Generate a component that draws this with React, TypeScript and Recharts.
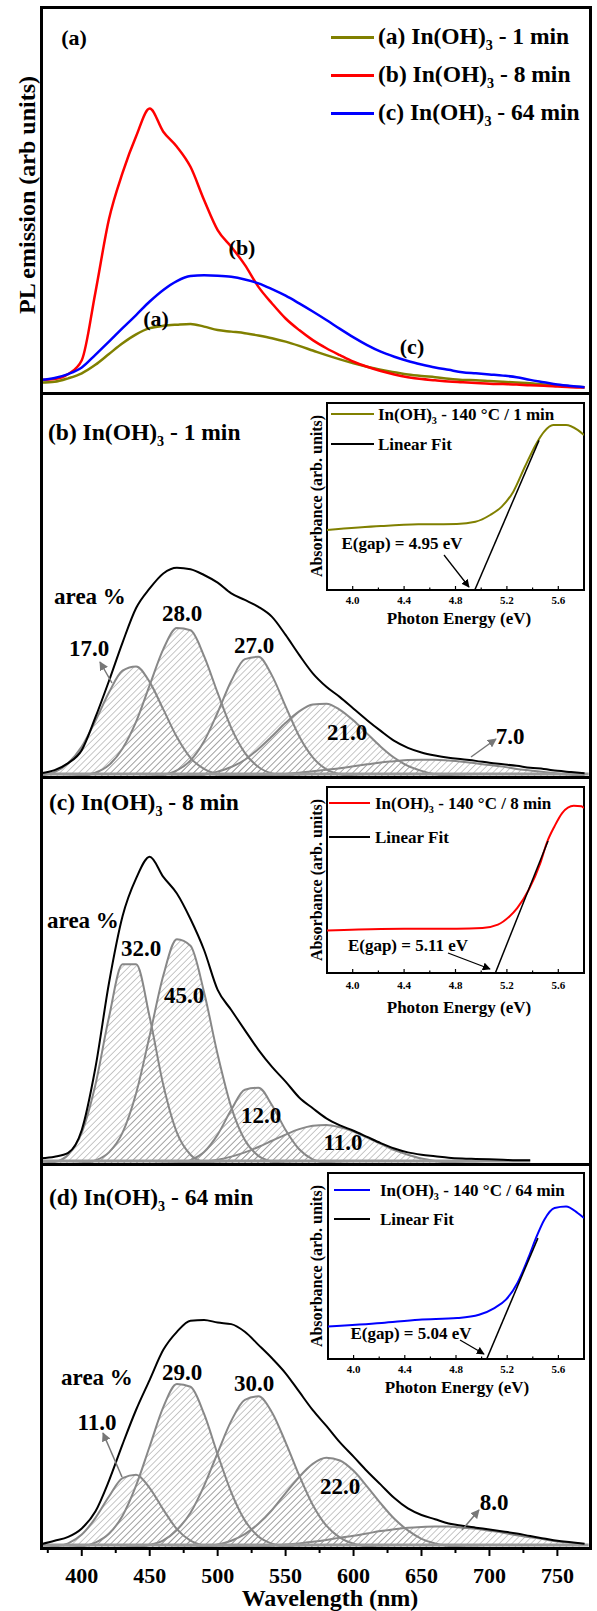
import React from 'react';
import { ComposedChart, Line, Area, XAxis, YAxis, ReferenceLine } from 'recharts';

const FONT = "'Liberation Serif', 'Times New Roman', Times, serif";

// ---------- shared wavelength grid (nm) ----------
const wavelengths = [
  370, 380, 390, 400, 410, 420, 430, 440, 450, 460,
  470, 480, 490, 500, 510, 520, 530, 540, 550, 560,
  570, 580, 590, 600, 610, 620, 630, 640, 650, 660,
  670, 680, 690, 700, 710, 720, 730, 740, 750, 760,
  770,
];
const wavelengths8min = [
  370, 380, 390, 400, 410, 420, 430, 440, 450, 460,
  470, 480, 490, 500, 510, 520, 530, 540, 550, 560,
  570, 580, 590, 600, 610, 620, 630, 640, 650, 660,
  670, 680, 690, 700, 710, 720, 730,
];
const xTickValues = [375, 400, 425, 450, 475, 500, 525, 550, 575, 600, 625, 650, 675, 700, 725, 750];

// ---------- panel (a): PL emission ----------
const pl1min = [
  2.7, 2.9, 3.8, 5.1, 7.3, 10.1, 12.9, 15.2, 16.8, 17.4,
  17.7, 17.9, 17.2, 16.3, 15.9, 15.5, 14.9, 14.2, 13.3, 12.2,
  11.0, 9.8, 8.7, 7.7, 6.8, 6.0, 5.4, 4.8, 4.4, 4.1,
  3.7, 3.4, 3.3, 3.1, 2.9, 2.7, 2.5, 2.2, 2.0, 1.7,
  1.5,
];
const pl8min = [
  3.4, 3.6, 4.9, 8.5, 26.0, 45.0, 57.0, 66.5, 73.7, 67.7,
  63.8, 58.6, 50.0, 42.2, 37.9, 33.2, 27.5, 23.2, 19.3, 16.3,
  13.7, 11.6, 9.8, 8.1, 6.8, 5.7, 4.8, 4.1, 3.6, 3.3,
  3.0, 2.8, 2.6, 2.4, 2.3, 2.2, 2.0, 1.9, 1.7, 1.5,
  1.4,
];
const pl64min = [
  3.4, 3.9, 4.9, 6.6, 9.9, 13.3, 16.8, 20.2, 23.7, 26.7,
  29.0, 30.3, 30.5, 30.4, 30.1, 29.4, 28.4, 26.9, 25.2, 23.2,
  21.1, 18.9, 16.6, 14.4, 12.4, 10.7, 9.4, 8.3, 7.4, 6.6,
  6.0, 5.4, 5.1, 4.8, 4.5, 4.1, 3.4, 2.8, 2.2, 1.8,
  1.5,
];

// ---------- panel (b): 1 min fit ----------
const fit1Total = [
  1.0, 1.8, 3.6, 7.0, 15.5, 25.0, 35.0, 44.0, 49.1, 53.0,
  54.5, 54.1, 52.6, 50.6, 47.8, 46.1, 44.3, 41.7, 37.0, 31.8,
  27.0, 23.5, 20.8, 17.8, 14.8, 12.0, 9.4, 7.6, 6.4, 5.6,
  5.0, 4.6, 4.2, 3.7, 3.3, 2.9, 2.4, 2.1, 1.6, 1.3,
  1.0,
];
const fit1Peak1 = [
  0.4, 1.3, 3.6, 7.9, 14.6, 22.0, 27.7, 28.8, 24.7, 17.6,
  10.4, 5.0, 2.1, 0.7, 0.2, 0, 0, 0, 0, 0,
  0, 0, 0, 0, 0, 0, 0, 0, 0, 0,
  0, 0, 0, 0, 0, 0, 0, 0, 0, 0,
  0,
];
const fit1Peak2 = [
  0, 0, 0.1, 0.3, 1.1, 3.1, 7.4, 14.4, 23.9, 33.3,
  38.8, 38.2, 31.5, 21.9, 12.8, 6.3, 2.6, 0.9, 0.3, 0.1,
  0, 0, 0, 0, 0, 0, 0, 0, 0, 0,
  0, 0, 0, 0, 0, 0, 0, 0, 0, 0,
  0,
];
const fit1Peak3 = [
  0, 0, 0, 0, 0, 0, 0, 0, 0.1, 0.5,
  1.7, 4.3, 9.3, 16.8, 25.0, 30.7, 31.3, 26.4, 18.4, 10.6,
  5.1, 2.0, 0.7, 0.2, 0, 0, 0, 0, 0, 0,
  0, 0, 0, 0, 0, 0, 0, 0, 0, 0,
  0,
];
const fit1Peak4 = [
  0, 0, 0, 0, 0, 0, 0, 0, 0, 0,
  0.1, 0.3, 0.6, 1.4, 2.6, 4.5, 7.3, 10.6, 14.1, 17.1,
  18.9, 19.1, 17.5, 14.7, 11.3, 7.9, 5.0, 2.9, 1.6, 0.7,
  0.3, 0.1, 0, 0, 0, 0, 0, 0, 0, 0,
  0,
];
const fit1Peak5 = [
  0, 0, 0, 0, 0, 0, 0, 0, 0, 0,
  0, 0, 0, 0.1, 0.2, 0.3, 0.4, 0.5, 0.8, 1.1,
  1.5, 1.9, 2.3, 2.8, 3.3, 3.8, 4.1, 4.4, 4.5, 4.5,
  4.3, 4.0, 3.6, 3.1, 2.7, 2.1, 1.7, 1.3, 0.9, 0.6,
  0.5,
];

// ---------- panel (c): 8 min fit ----------
const fit8Total = [
  1.5, 1.9, 2.9, 8.8, 24.8, 46.7, 64.0, 73.8, 79.4, 74.2,
  69.9, 63.3, 55.3, 45.0, 39.8, 34.6, 29.5, 25.1, 21.3, 17.2,
  14.4, 11.8, 10.0, 8.6, 7.0, 5.4, 4.0, 3.0, 2.4, 2.0,
  1.6, 1.4, 1.3, 1.2, 1.1, 1.0, 1.0,
];
const fit8Peak1 = [
  0.1, 0.5, 2.4, 8.1, 20.4, 37.9, 51.6, 51.6, 37.9, 20.4,
  8.1, 2.4, 0.5, 0.1, 0, 0, 0, 0, 0, 0,
  0, 0, 0, 0, 0, 0, 0, 0, 0, 0,
  0, 0, 0, 0, 0, 0, 0,
];
const fit8Peak2 = [
  0, 0, 0, 0.2, 0.9, 3.0, 8.1, 18.3, 33.2, 48.7,
  58.1, 56.4, 44.4, 28.3, 14.7, 6.2, 2.1, 0.6, 0.1, 0,
  0, 0, 0, 0, 0, 0, 0, 0, 0, 0,
  0, 0, 0, 0, 0, 0, 0,
];
const fit8Peak3 = [
  0, 0, 0, 0, 0, 0, 0, 0, 0, 0,
  0.2, 1.0, 3.1, 7.6, 14.0, 19.2, 19.7, 15.2, 8.8, 3.8,
  1.2, 0.3, 0.1, 0, 0, 0, 0, 0, 0, 0,
  0, 0, 0, 0, 0, 0, 0,
];
const fit8Peak4 = [
  0, 0, 0, 0, 0, 0, 0, 0, 0, 0.1,
  0.1, 0.3, 0.6, 1.1, 1.9, 3.0, 4.4, 6.0, 7.6, 9.0,
  9.9, 10.1, 9.5, 8.4, 6.8, 5.2, 3.6, 2.4, 1.4, 0.8,
  0.4, 0.2, 0.1, 0, 0, 0, 0,
];

// ---------- panel (d): 64 min fit ----------
const fit64Total = [
  1.0, 1.9, 2.9, 5.1, 9.5, 17.5, 27.0, 36.0, 43.8, 51.6,
  56.3, 59.2, 59.4, 58.7, 58.3, 56.3, 52.9, 49.4, 45.5, 40.7,
  35.9, 31.8, 27.5, 23.8, 20.0, 16.5, 13.0, 10.3, 8.6, 7.5,
  6.4, 5.8, 5.3, 4.8, 4.3, 3.8, 3.1, 2.5, 1.9, 1.5,
  1.1,
];
const fit64Peak1 = [
  0.1, 0.3, 1.2, 3.5, 7.8, 13.4, 18.2, 19.1, 15.6, 10.0,
  4.9, 1.9, 0.6, 0.1, 0, 0, 0, 0, 0, 0,
  0, 0, 0, 0, 0, 0, 0, 0, 0, 0,
  0, 0, 0, 0, 0, 0, 0, 0, 0, 0,
  0,
];
const fit64Peak2 = [
  0, 0, 0.1, 0.4, 1.4, 3.7, 8.4, 16.3, 26.5, 36.7,
  42.7, 42.0, 34.9, 24.4, 14.5, 7.2, 3.0, 1.1, 0.3, 0.1,
  0, 0, 0, 0, 0, 0, 0, 0, 0, 0,
  0, 0, 0, 0, 0, 0, 0, 0, 0, 0,
  0,
];
const fit64Peak3 = [
  0, 0, 0, 0, 0, 0, 0.1, 0.3, 0.8, 2.0,
  4.7, 9.2, 16.2, 24.8, 33.1, 38.6, 39.5, 35.3, 27.5, 18.9,
  11.2, 5.8, 2.7, 1.1, 0.4, 0.1, 0, 0, 0, 0,
  0, 0, 0, 0, 0, 0, 0, 0, 0, 0,
  0,
];
const fit64Peak4 = [
  0, 0, 0, 0, 0, 0, 0, 0, 0, 0,
  0.1, 0.1, 0.4, 0.9, 1.9, 3.6, 6.3, 9.9, 14.3, 18.5,
  21.9, 23.5, 22.8, 20.1, 16.0, 11.6, 7.6, 4.6, 2.4, 1.2,
  0.5, 0.2, 0.1, 0, 0, 0, 0, 0, 0, 0,
  0,
];
const fit64Peak5 = [
  0, 0, 0, 0, 0, 0, 0, 0, 0, 0,
  0, 0, 0.1, 0.1, 0.2, 0.3, 0.5, 0.6, 0.9, 1.2,
  1.6, 2.1, 2.7, 3.2, 3.8, 4.4, 4.9, 5.3, 5.5, 5.6,
  5.6, 5.3, 5.0, 4.5, 4.0, 3.3, 2.8, 2.3, 1.7, 1.4,
  1.0,
];

// ---------- insets: absorbance vs photon energy ----------
const insetTickValues = [4.0, 4.2, 4.4, 4.6, 4.8, 5.0, 5.2, 5.4, 5.6];
const insetTickLabels = ['4.0', '4.4', '4.8', '5.2', '5.6'];

const energy1min = [3.8, 4.22, 4.51, 4.81, 4.955, 5.07, 5.16, 5.25, 5.34, 5.43, 5.49, 5.56, 5.66, 5.75, 5.8];
const absorb1min = [32.1, 34.2, 35.1, 35.3, 36.5, 40.1, 44.6, 52.6, 65.9, 78.4, 84.7, 88.2, 88.2, 85.6, 82.9];
const gapFitEnergy1min = [4.95, 5.45];
const gapFitValue1min = [0, 80];

const energy8min = [3.8, 4.22, 4.51, 4.81, 5.01, 5.13, 5.22, 5.28, 5.37, 5.46, 5.51, 5.57, 5.63, 5.72, 5.78, 5.8];
const absorb8min = [22.9, 23.7, 23.8, 23.8, 24.2, 26.0, 30.4, 34.9, 44.8, 59.1, 69.9, 78.8, 86.0, 89.9, 89.6, 88.7];
const gapFitEnergy8min = [5.11, 5.52];
const gapFitValue8min = [0, 71];

const energy64min = [3.8, 4.22, 4.51, 4.81, 4.98, 5.1, 5.19, 5.28, 5.37, 5.43, 5.49, 5.57, 5.66, 5.75, 5.8];
const absorb64min = [17.5, 19.4, 21.1, 22.0, 23.8, 27.4, 31.9, 40.9, 55.2, 65.9, 74.9, 81.2, 82.0, 78.5, 75.8];
const gapFitEnergy64min = [5.04, 5.44];
const gapFitValue64min = [0, 65];

// ---------- builders ----------
const rowsOf = (xs: number[], cols: Record<string, number[]>) =>
  xs.map((w, i) => {
    const r: any = { w };
    Object.keys(cols).forEach((k) => { r[k] = cols[k][i]; });
    return r;
  });
const pairs = (es: number[], vs: number[]) => es.map((e, i) => ({ e, a: vs[i] }));

const dataA = rowsOf(wavelengths, { m1: pl1min, m8: pl8min, m64: pl64min });
const dataB = rowsOf(wavelengths, { total: fit1Total, p1: fit1Peak1, p2: fit1Peak2, p3: fit1Peak3, p4: fit1Peak4, p5: fit1Peak5 });
const dataC = rowsOf(wavelengths8min, { total: fit8Total, p1: fit8Peak1, p2: fit8Peak2, p3: fit8Peak3, p4: fit8Peak4 });
const dataD = rowsOf(wavelengths, { total: fit64Total, p1: fit64Peak1, p2: fit64Peak2, p3: fit64Peak3, p4: fit64Peak4, p5: fit64Peak5 });

// ---------- small components ----------
const Sub = () => <span style={{ fontSize: '0.6em', position: 'relative', top: '0.4em' }}>3</span>;

function Txt({ x, y, size = 23, anchor = 'middle', rot = 0, children }: any) {
  const tx = anchor === 'start' ? '0' : '-50%';
  return (
    <div
      style={{
        position: 'absolute', left: x, top: y,
        transform: `translate(${tx},-50%)${rot ? ` rotate(${rot}deg)` : ''}`,
        fontFamily: FONT, fontWeight: 700, fontSize: size, lineHeight: 1,
        whiteSpace: 'nowrap', color: '#000',
      }}
    >
      {children}
    </div>
  );
}

const LegendLine = ({ x1, x2, y, color, w = 3 }: any) => (
  <div style={{ position: 'absolute', left: x1, top: y - w / 2, width: x2 - x1, height: w, background: color }} />
);

const Frame = ({ y1, y2 }: any) => (
  <div style={{ position: 'absolute', left: 39.5, top: y1 - 1.5, width: 552, height: y2 - y1 + 3, border: '3px solid #000', boxSizing: 'border-box' }} />
);

function MainTick(props: any) {
  const { x, y, payload } = props;
  const v = payload.value;
  const major = v % 50 === 0;
  return (
    <g>
      <line x1={x} x2={x} y1={y} y2={y + (major ? 8 : 5)} stroke="#000" strokeWidth={2} />
      {major && (
        <text x={x} y={y + 27} textAnchor="middle" dominantBaseline="central" fontFamily={FONT} fontWeight={700} fontSize={22} fill="#000">
          {String(v)}
        </text>
      )}
    </g>
  );
}

function FitPanel({ top, height, data, peaks, baseEnd, axis }: any) {
  const h = height + (axis ? 63 : 0);
  return (
    <div style={{ position: 'absolute', left: 0, top, width: 597, height: h }}>
      <ComposedChart width={597} height={h} data={data} margin={{ top: 0, right: 7, bottom: 0, left: 41 }}>
        <XAxis
          dataKey="w" type="number" domain={[370, 774]} hide={!axis} height={63}
          ticks={xTickValues} interval={0} tick={axis ? MainTick : false}
          tickLine={false} axisLine={false} tickSize={0} tickMargin={0} allowDataOverflow
        />
        <YAxis type="number" domain={[0, 100]} hide allowDataOverflow />
        {peaks.map((k: string) => (
          <Area
            key={k} dataKey={k} type="monotone" stroke="#888" strokeWidth={2}
            fill="url(#hatch)" fillOpacity={1} dot={false} activeDot={false} isAnimationActive={false}
          />
        ))}
        <ReferenceLine segment={[{ x: 371, y: 0.8 }, { x: baseEnd, y: 0.8 }]} stroke="#9a9a9a" strokeWidth={3} />
        <Line dataKey="total" type="monotone" stroke="#000" strokeWidth={2} dot={false} activeDot={false} isAnimationActive={false} />
      </ComposedChart>
    </div>
  );
}

function InsetTick({ x, y, payload, gap }: any) {
  const label = Number(payload.value).toFixed(1);
  const major = insetTickLabels.includes(label);
  return (
    <g>
      <line x1={x} x2={x} y1={y} y2={y - (major ? 4 : 2.5)} stroke="#000" strokeWidth={1.2} />
      {major && (
        <text x={x} y={y + gap} textAnchor="middle" dominantBaseline="central" fontFamily={FONT} fontWeight={700} fontSize={11} fill="#000">
          {label}
        </text>
      )}
    </g>
  );
}

function Inset({ L, T, R, B, curve, fit, color, gap }: any) {
  const W = R - L;
  const H = B - T;
  return (
    <>
      <div style={{ position: 'absolute', left: L - 1, top: T - 1, width: W + 2, height: H + 2, border: '2px solid #000', boxSizing: 'border-box', background: '#fff' }} />
      <div style={{ position: 'absolute', left: L, top: T, width: W, height: H + 24 }}>
        <ComposedChart width={W} height={H + 24} margin={{ top: 0, right: 0, bottom: 0, left: 0 }}>
          <XAxis
            dataKey="e" type="number" domain={[3.8, 5.8]} height={24} ticks={insetTickValues} interval={0}
            tick={(p: any) => <InsetTick {...p} gap={gap} />}
            tickLine={false} axisLine={false} tickSize={0} tickMargin={0} allowDataOverflow
          />
          <YAxis type="number" domain={[0, 100]} hide allowDataOverflow />
          <Line data={curve} dataKey="a" type="monotone" stroke={color} strokeWidth={2} dot={false} activeDot={false} isAnimationActive={false} />
          <Line data={fit} dataKey="a" type="linear" stroke="#000" strokeWidth={1.5} dot={false} activeDot={false} isAnimationActive={false} />
        </ComposedChart>
      </div>
    </>
  );
}

const TitleIn = ({ pre, post }: any) => (<>{pre} In(OH)<Sub /> - {post}</>);
const InsetLegendText = ({ post }: any) => (<>In(OH)<Sub /> - 140 °C / {post}</>);

export default function App() {
  return (
    <div style={{ position: 'absolute', left: 0, top: 0, width: 597, height: 1611, background: '#fff', overflow: 'hidden' }}>
      {/* panel (a) */}
      <div style={{ position: 'absolute', left: 0, top: 7, width: 597, height: 386 }}>
        <ComposedChart width={597} height={386} data={dataA} margin={{ top: 0, right: 7, bottom: 0, left: 41 }}>
          <XAxis dataKey="w" type="number" domain={[370, 774]} hide allowDataOverflow />
          <YAxis type="number" domain={[0, 100]} hide allowDataOverflow />
          <Line dataKey="m1" type="monotone" stroke="#808000" strokeWidth={2.5} dot={false} activeDot={false} isAnimationActive={false} />
          <Line dataKey="m8" type="monotone" stroke="#ff0000" strokeWidth={2.5} dot={false} activeDot={false} isAnimationActive={false} />
          <Line dataKey="m64" type="monotone" stroke="#0000ff" strokeWidth={2.5} dot={false} activeDot={false} isAnimationActive={false} />
        </ComposedChart>
      </div>

      <FitPanel top={393} height={384} data={dataB} peaks={['p5', 'p4', 'p3', 'p2', 'p1']} baseEnd={773} />
      <FitPanel top={777} height={387} data={dataC} peaks={['p4', 'p3', 'p2', 'p1']} baseEnd={730} />
      <FitPanel top={1164} height={384} data={dataD} peaks={['p5', 'p4', 'p3', 'p2', 'p1']} baseEnd={773} axis />

      <Frame y1={7} y2={393} />
      <Frame y1={393} y2={777} />
      <Frame y1={777} y2={1164} />
      <Frame y1={1164} y2={1548} />

      <Inset L={327} T={403} R={584} B={590} curve={pairs(energy1min, absorb1min)} fit={pairs(gapFitEnergy1min, gapFitValue1min)} color="#808000" gap={10} />
      <Inset L={327} T={787} R={584} B={973} curve={pairs(energy8min, absorb8min)} fit={pairs(gapFitEnergy8min, gapFitValue8min)} color="#ff0000" gap={12} />
      <Inset L={328} T={1173} R={584} B={1359} curve={pairs(energy64min, absorb64min)} fit={pairs(gapFitEnergy64min, gapFitValue64min)} color="#0000ff" gap={9.5} />

      {/* panel (a) texts */}
      <Txt x={27} y={195} size={24} rot={-90}>PL emission (arb units)</Txt>
      <Txt x={74} y={38} size={22}>(a)</Txt>
      <LegendLine x1={331} x2={374} y={37} color="#808000" />
      <LegendLine x1={331} x2={374} y={75} color="#ff0000" />
      <LegendLine x1={331} x2={374} y={113} color="#0000ff" />
      <Txt x={378} y={37} size={23.5} anchor="start"><TitleIn pre="(a)" post="1 min" /></Txt>
      <Txt x={378} y={75} size={23.5} anchor="start"><TitleIn pre="(b)" post="8 min" /></Txt>
      <Txt x={378} y={113} size={23.5} anchor="start"><TitleIn pre="(c)" post="64 min" /></Txt>
      <Txt x={156} y={319} size={22}>(a)</Txt>
      <Txt x={242} y={248} size={22}>(b)</Txt>
      <Txt x={412} y={347} size={22}>(c)</Txt>

      {/* panel (b) texts */}
      <Txt x={48} y={433} size={23.5} anchor="start"><TitleIn pre="(b)" post="1 min" /></Txt>
      <Txt x={90} y={596}>area %</Txt>
      <Txt x={182} y={613}>28.0</Txt>
      <Txt x={89} y={648}>17.0</Txt>
      <Txt x={254} y={645}>27.0</Txt>
      <Txt x={347} y={732}>21.0</Txt>
      <Txt x={510} y={736}>7.0</Txt>
      <LegendLine x1={331} x2={374} y={414} color="#808000" w={2} />
      <LegendLine x1={331} x2={374} y={444} color="#000" w={2} />
      <Txt x={378} y={414} size={17} anchor="start"><InsetLegendText post="1 min" /></Txt>
      <Txt x={378} y={444} size={17} anchor="start">Linear Fit</Txt>
      <Txt x={317} y={496} size={16} rot={-90}>Absorbance (arb. units)</Txt>
      <Txt x={459} y={618} size={17}>Photon Energy (eV)</Txt>
      <Txt x={402} y={543} size={17}>E(gap) = 4.95 eV</Txt>

      {/* panel (c) texts */}
      <Txt x={49} y={803} size={23.5} anchor="start"><TitleIn pre="(c)" post="8 min" /></Txt>
      <Txt x={83} y={920}>area %</Txt>
      <Txt x={141} y={948}>32.0</Txt>
      <Txt x={184} y={995}>45.0</Txt>
      <Txt x={261} y={1115}>12.0</Txt>
      <Txt x={343} y={1142}>11.0</Txt>
      <LegendLine x1={329} x2={370} y={803} color="#ff0000" w={2} />
      <LegendLine x1={329} x2={370} y={837} color="#000" w={2} />
      <Txt x={375} y={803} size={17} anchor="start"><InsetLegendText post="8 min" /></Txt>
      <Txt x={375} y={837} size={17} anchor="start">Linear Fit</Txt>
      <Txt x={317} y={880} size={16} rot={-90}>Absorbance (arb. units)</Txt>
      <Txt x={459} y={1007} size={17}>Photon Energy (eV)</Txt>
      <Txt x={408} y={945} size={17}>E(gap) = 5.11 eV</Txt>

      {/* panel (d) texts */}
      <Txt x={49} y={1198} size={23.5} anchor="start"><TitleIn pre="(d)" post="64 min" /></Txt>
      <Txt x={97} y={1377}>area %</Txt>
      <Txt x={182} y={1372}>29.0</Txt>
      <Txt x={254} y={1383}>30.0</Txt>
      <Txt x={97} y={1422}>11.0</Txt>
      <Txt x={340} y={1486}>22.0</Txt>
      <Txt x={494} y={1502}>8.0</Txt>
      <LegendLine x1={334} x2={370} y={1190} color="#0000ff" w={2} />
      <LegendLine x1={334} x2={370} y={1219} color="#000" w={2} />
      <Txt x={380} y={1190} size={17} anchor="start"><InsetLegendText post="64 min" /></Txt>
      <Txt x={380} y={1219} size={17} anchor="start">Linear Fit</Txt>
      <Txt x={317} y={1266} size={16} rot={-90}>Absorbance (arb. units)</Txt>
      <Txt x={457} y={1387} size={17}>Photon Energy (eV)</Txt>
      <Txt x={411} y={1333} size={17}>E(gap) = 5.04 eV</Txt>

      <Txt x={330} y={1598} size={24}>Wavelength (nm)</Txt>

      {/* annotation arrows + hatch pattern */}
      <svg width={597} height={1611} style={{ position: 'absolute', left: 0, top: 0, pointerEvents: 'none' }}>
        <defs>
          <pattern id="hatch" patternUnits="userSpaceOnUse" width="4.5" height="4.5" patternTransform="rotate(45)">
            <line x1="0" y1="0" x2="0" y2="4.5" stroke="#8f8f8f" strokeWidth="1" />
          </pattern>
          <marker id="headGray" viewBox="0 0 10 10" refX="9" refY="5" markerWidth="9" markerHeight="9" markerUnits="userSpaceOnUse" orient="auto">
            <path d="M0,0 L10,5 L0,10 z" fill="#777" />
          </marker>
          <marker id="headBlack" viewBox="0 0 10 10" refX="9" refY="5" markerWidth="8" markerHeight="8" markerUnits="userSpaceOnUse" orient="auto">
            <path d="M0,0 L10,5 L0,10 z" fill="#000" />
          </marker>
        </defs>
        <line x1={112} y1={683} x2={100} y2={662} stroke="#777" strokeWidth={1.5} markerEnd="url(#headGray)" />
        <line x1={471} y1={757} x2={496} y2={739} stroke="#777" strokeWidth={1.5} markerEnd="url(#headGray)" />
        <line x1={122} y1={1477} x2={103} y2={1433} stroke="#777" strokeWidth={1.5} markerEnd="url(#headGray)" />
        <line x1={462} y1={1530} x2={479} y2={1510} stroke="#777" strokeWidth={1.5} markerEnd="url(#headGray)" />
        <line x1={444} y1={555} x2={469} y2={587} stroke="#000" strokeWidth={1.3} markerEnd="url(#headBlack)" />
        <line x1={448} y1={953} x2={490} y2={969} stroke="#000" strokeWidth={1.3} markerEnd="url(#headBlack)" />
        <line x1={460} y1={1340} x2={484} y2={1354} stroke="#000" strokeWidth={1.3} markerEnd="url(#headBlack)" />
      </svg>
    </div>
  );
}
